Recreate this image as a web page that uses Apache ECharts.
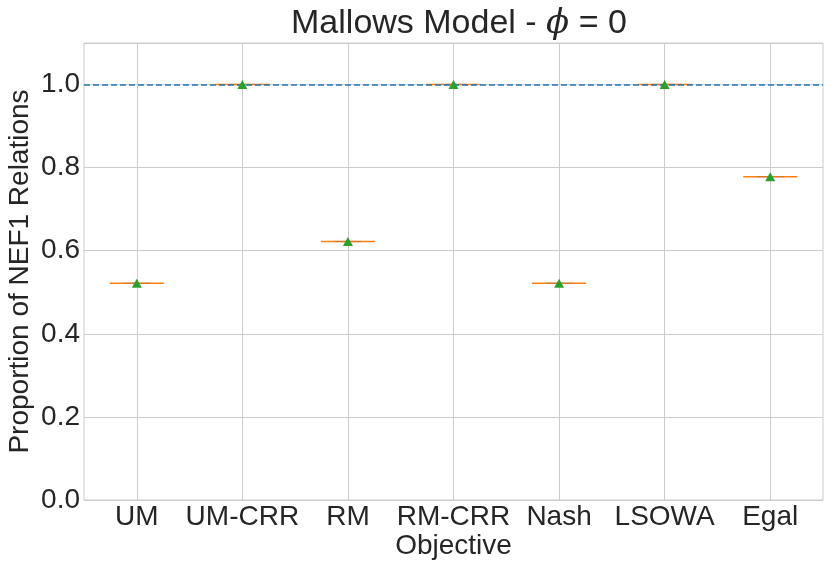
<!DOCTYPE html>
<html>
<head>
<meta charset="utf-8">
<script src="https://cdn.jsdelivr.net/npm/echarts@6/dist/echarts.min.js"></script>
<style>
html, body { margin: 0; padding: 0; background: #fff; }
#chart { width: 831px; height: 572px; }
</style>
</head>
<body>
<div id="chart"></div>
<script>
let categories = ['UM', 'UM-CRR', 'RM', 'RM-CRR', 'Nash', 'LSOWA', 'Egal'];
// every run gives the same proportion, so each box collapses to one line
let medianValues = [0.522, 1.0, 0.622, 1.0, 0.522, 1.0, 0.778];
let meanValues = [0.522, 1.0, 0.622, 1.0, 0.522, 1.0, 0.778];
let yTicks = [0, 0.2, 0.4, 0.6, 0.8, 1.0];
let referenceLine = 1.0;

let textColor = '#262626';
let gridColor = '#cccccc';
let fontName = 'Liberation Sans';
let labelSize = 28;

let chart = echarts.init(document.getElementById('chart'));

let boxData = medianValues.map(function (v) {
    return [v, v, v, v, v];
});
let meanData = meanValues.map(function (v, i) {
    return [categories[i], v];
});

let option = {
    backgroundColor: '#ffffff',
    animation: false,
    title: {
        text: 'Mallows Model - {phi|ϕ} = 0',
        left: 454,
        textAlign: 'center',
        top: 2,
        textStyle: {
            fontFamily: fontName,
            fontSize: 34,
            fontWeight: 'normal',
            color: textColor,
            rich: {
                phi: {
                    fontFamily: 'DejaVu Serif',
                    fontStyle: 'italic',
                    fontSize: 34,
                    color: textColor
                }
            }
        }
    },
    grid: {
        left: 84,
        right: 8,
        top: 43,
        bottom: 72,
        outerBoundsMode: 'none',
        show: true,
        borderColor: gridColor,
        borderWidth: 1,
        backgroundColor: '#ffffff'
    },
    xAxis: [{
        type: 'category',
        data: categories,
        name: 'Objective',
        nameLocation: 'middle',
        nameGap: 32,
        nameMoveOverlap: false,
        nameTextStyle: { fontFamily: fontName, fontSize: labelSize, color: textColor },
        axisLine: { show: false },
        axisTick: { show: false },
        axisLabel: { interval: 0, fontFamily: fontName, fontSize: labelSize, color: textColor, margin: 3 },
        splitLine: { show: false }
    }, {
        // twin axis so the cap overlay sits on the same spot as the box
        type: 'category',
        data: categories,
        show: false
    }],
    yAxis: {
        type: 'value',
        min: 0,
        max: 1.1,
        interval: 0.2,
        name: 'Proportion of NEF1 Relations',
        nameLocation: 'middle',
        nameGap: 50,
        nameMoveOverlap: false,
        nameTextStyle: { fontFamily: fontName, fontSize: labelSize, color: textColor },
        axisLine: { show: false },
        axisTick: { show: false },
        axisLabel: {
            fontFamily: fontName,
            fontSize: labelSize,
            color: textColor,
            margin: 4,
            formatter: function (v) {
                return yTicks.indexOf(Math.round(v * 10) / 10) >= 0 ? v.toFixed(1) : '';
            }
        },
        splitLine: { show: true, lineStyle: { color: gridColor, width: 1 } }
    },
    series: [
        {
            // vertical grid lines through the category centres
            type: 'scatter',
            data: [],
            silent: true,
            z: 1,
            markLine: {
                silent: true,
                symbol: 'none',
                label: { show: false },
                lineStyle: { color: gridColor, type: 'solid', width: 1 },
                data: categories.map(function (c) { return { xAxis: c }; })
            }
        },
        {
            type: 'boxplot',
            data: boxData,
            boxWidth: [54, 54],
            z: 3,
            itemStyle: { color: 'transparent', borderColor: '#ff7f0e', borderWidth: 1.5 }
        },
        {
            // caps show up darker in the middle of the line
            type: 'boxplot',
            xAxisIndex: 1,
            data: boxData,
            boxWidth: [27, 27],
            z: 4,
            itemStyle: { color: 'transparent', borderColor: 'rgba(140,110,90,0.35)', borderWidth: 1.5 }
        },
        {
            type: 'scatter',
            data: meanData,
            symbol: 'triangle',
            symbolSize: [10, 9],
            z: 6,
            itemStyle: { color: '#2ca02c', opacity: 1 },
            markLine: {
                silent: true,
                symbol: 'none',
                label: { show: false },
                lineStyle: { color: '#1f77b4', type: [6, 3], width: 1.6 },
                data: [{ yAxis: referenceLine }]
            }
        }
    ]
};

chart.setOption(option);
</script>
</body>
</html>
